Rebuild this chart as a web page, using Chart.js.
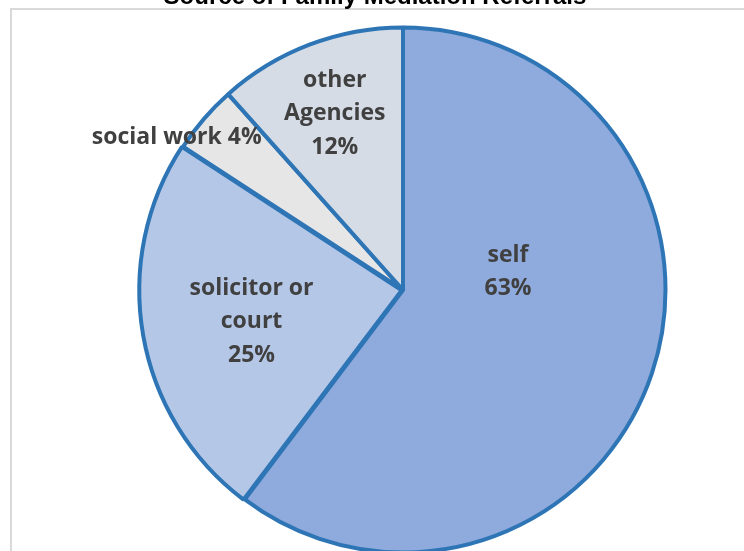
<!DOCTYPE html>
<html>
<head>
<meta charset="utf-8">
<script src="https://cdn.jsdelivr.net/npm/chart.js@4"></script>
<style>
  html, body { margin: 0; padding: 0; background: #fff; overflow: hidden; }
  #wrap { position: absolute; left: 0; top: 0; width: 744px; height: 580px; }
</style>
</head>
<body>
<div id="wrap"><canvas id="graficoReferrals"></canvas></div>
<script>
const chartTitle = "Source of Family Mediation Referrals";
const categories = ["self", "solicitor or court", "social work", "other Agencies"];
// drawn share of the circle
const shares = [60.3, 23.9, 4.2, 11.6];
// text printed on the slices
const labelLines = [
  ["self", "63%"],
  ["solicitor or", "court", "25%"],
  ["social work 4%"],
  ["other", "Agencies", "12%"]
];
const fillColors = ["#8FAADC", "#B4C7E7", "#E6E6E6", "#D6DCE5"];
const sliceOffsets = [0, 5, 0, 0];
// label centres relative to pie centre, in units of the radius
const labelSpots = [[0.400, -0.068], [-0.577, 0.121], [-0.862, -0.581], [-0.26, -0.672]];

const framePlugin = {
  id: "frame",
  beforeDraw(chart) {
    const c = chart.ctx;
    c.save();
    c.strokeStyle = "#D9D9D9";
    c.lineWidth = 2;
    c.strokeRect(11, 9, 900, 700);
    c.fillStyle = "#000";
    c.font = "bold 24px 'Liberation Sans', Arial, sans-serif";
    c.textAlign = "center";
    c.textBaseline = "alphabetic";
    c.fillText(chartTitle, 375, 4);
    c.restore();
  }
};

const labelPlugin = {
  id: "sliceLabels",
  afterDatasetsDraw(chart) {
    const arcs = chart.getDatasetMeta(0).data;
    const area = chart.chartArea;
    const c = chart.ctx;
    c.save();
    c.fillStyle = "#404040";
    c.font = "bold 23px 'Open Sans', sans-serif";
    c.textAlign = "center";
    c.textBaseline = "middle";
    arcs.forEach(function (arc, i) {
      const r = arc.outerRadius;
      const x0 = (area.left + area.right) / 2 + labelSpots[i][0] * r;
      const y0 = (area.top + area.bottom) / 2 + labelSpots[i][1] * r;
      const lines = labelLines[i];
      const lh = 33.5;
      lines.forEach(function (t, k) {
        c.fillText(t, x0, y0 + (k - (lines.length - 1) / 2) * lh);
      });
    });
    c.restore();
  }
};

const ctx = document.getElementById("graficoReferrals").getContext("2d");
new Chart(ctx, {
  type: "pie",
  data: {
    labels: categories,
    datasets: [
      {
        data: shares,
        backgroundColor: fillColors,
        borderColor: "#2E75B6",
        borderWidth: 4,
        offset: sliceOffsets
      }
    ]
  },
  options: {
    responsive: true,
    maintainAspectRatio: false,
    animation: false,
    layout: { padding: { left: 136, right: 74, top: 23, bottom: 23 } },
    plugins: {
      legend: { display: false },
      tooltip: { enabled: false }
    }
  },
  plugins: [framePlugin, labelPlugin]
});
</script>
</body>
</html>
